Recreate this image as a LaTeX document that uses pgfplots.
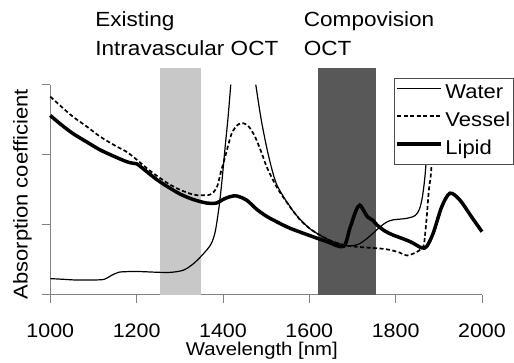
\documentclass[border=0pt]{standalone}
\usepackage{fontspec}
\setmainfont[FakeStretch=1.1]{Liberation Sans}
\usepackage{pgfplots}
\pgfplotsset{compat=1.18}
\definecolor{band1}{RGB}{200,200,200}
\definecolor{band2}{RGB}{88,88,88}
\definecolor{axgray}{RGB}{130,130,130}
\begin{document}
\begin{tikzpicture}
\path[use as bounding box] (-50.3pt,-67.3pt) rectangle (463.7pt,294.7pt);
\begin{axis}[
  scale only axis, width=431.7pt, height=210pt,
  xmin=1000, xmax=2000, ymin=0, ymax=3,
  clip=false,
  axis x line*=bottom, axis y line*=left,
  axis line style={axgray, line width=0.9pt},
  xtick={1000,1200,...,2000}, ytick={0,1,2,3}, yticklabels={},
  tick align=outside, major tick length=8pt,
  tick style={axgray, line width=0.9pt},
  /pgf/number format/1000 sep={},
  /pgf/number format/assume math mode=true,
  xticklabel style={font=\fontsize{19.5}{23}\selectfont, anchor=base, yshift=-35pt, inner sep=0pt},
  xlabel={Wavelength [nm]},
  xlabel style={font=\fontsize{18.5}{22}\selectfont, at={(axis description cs:0.490,-0.290)}, anchor=base, inner sep=0pt},
  ylabel={Absorption coefficient},
  ylabel style={font=\fontsize{20}{24}\selectfont, at={(axis description cs:-0.0526,0.478)}, anchor=base, rotate=0, inner sep=0pt},
  legend style={at={(axis cs:1796,3.10)}, anchor=north west, draw=black!70, line width=0.9pt, fill=white,
    font=\fontsize{20}{24}\selectfont, inner xsep=1pt, inner ysep=1pt,
    nodes={inner sep=2.5pt, text height=17pt, text depth=6pt}},
  legend cell align=left,
  legend image code/.code={\draw[#1] (0pt,5pt) -- (44pt,5pt);},
]
\addplot[fill=band1, draw=none, forget plot] coordinates {(1255,3.24) (1350,3.24)} \closedcycle;
\addplot[fill=band2, draw=none, forget plot] coordinates {(1620,3.24) (1755,3.24)} \closedcycle;

\addplot[black, line width=1.2pt, smooth, tension=0.5] coordinates {
(1000,0.23)(1030,0.22)(1060,0.21)(1100,0.21)(1125,0.22)(1140,0.27)(1158,0.32)(1180,0.33)(1210,0.33)(1250,0.32)(1280,0.32)(1308,0.35)(1331,0.44)(1354,0.58)(1372,0.72)(1382,0.90)(1391,1.26)(1398,1.65)(1405,2.11)(1412,2.55)(1418,3.0)};
\addlegendentry{Water}
\addplot[black, line width=1.7pt, dash pattern=on 4pt off 2.5pt, smooth, tension=0.5] coordinates {
(1000,2.83)(1025,2.69)(1053,2.54)(1085,2.40)(1115,2.26)(1150,2.13)(1177,2.04)(1200,1.93)(1231,1.77)(1270,1.60)(1300,1.50)(1331,1.43)(1350,1.42)(1370,1.43)(1385,1.52)(1395,1.75)(1405,1.97)(1420,2.30)(1435,2.43)(1447,2.45)(1460,2.40)(1474,2.26)(1488,2.05)(1501,1.83)(1515,1.65)(1528,1.50)(1550,1.30)(1563,1.19)(1580,1.06)(1602,0.94)(1625,0.85)(1650,0.77)(1679,0.71)(1700,0.69)(1740,0.67)(1764,0.66)(1787,0.64)(1810,0.60)(1826,0.56)(1849,0.61)(1864,0.69)(1868,0.85)(1872,1.11)(1877,1.5)(1883,1.85)(1888,3.0)};
\addlegendentry{Vessel}
\addplot[black, line width=3.5pt, smooth, tension=0.5] coordinates {
(1000,2.56)(1025,2.43)(1053,2.30)(1085,2.18)(1115,2.07)(1150,1.97)(1177,1.90)(1190,1.88)(1200,1.87)(1215,1.80)(1231,1.72)(1250,1.63)(1270,1.55)(1300,1.44)(1331,1.36)(1362,1.31)(1385,1.31)(1400,1.36)(1416,1.40)(1432,1.41)(1455,1.35)(1478,1.22)(1501,1.12)(1525,1.04)(1555,0.95)(1594,0.86)(1640,0.76)(1679,0.69)(1694,0.95)(1708,1.20)(1717,1.28)(1726,1.20)(1735,1.11)(1748,1.06)(1756,1.00)(1775,0.91)(1795,0.85)(1833,0.76)(1860,0.67)(1872,0.69)(1887,0.88)(1907,1.26)(1926,1.45)(1949,1.35)(1976,1.11)(2000,0.90)};
\addlegendentry{Lipid}
\addplot[black, line width=1.2pt, smooth, tension=0.5, forget plot] coordinates {
(1476,3.0)(1488,2.52)(1501,2.11)(1513,1.80)(1524,1.58)(1540,1.40)(1551,1.30)(1563,1.19)(1578,1.08)(1602,0.94)(1625,0.85)(1650,0.77)(1679,0.71)(1700,0.70)(1717,0.73)(1733,0.80)(1748,0.88)(1764,0.97)(1780,1.04)(1795,1.07)(1825,1.09)(1845,1.13)(1855,1.22)(1862,1.40)(1868,1.70)(1874,2.2)(1880,3.0)};

\node[anchor=base west, inner sep=0pt, font=\fontsize{20.5}{24}\selectfont] at (axis cs:1104,3.83) {Existing};
\node[anchor=base west, inner sep=0pt, font=\fontsize{20.5}{24}\selectfont] at (axis cs:1104,3.424) {Intravascular OCT};
\node[anchor=base west, inner sep=0pt, font=\fontsize{20.5}{24}\selectfont] at (axis cs:1587,3.83) {Compovision};
\node[anchor=base west, inner sep=0pt, font=\fontsize{20.5}{24}\selectfont] at (axis cs:1587,3.424) {OCT};
\end{axis}
\end{tikzpicture}
\end{document}
